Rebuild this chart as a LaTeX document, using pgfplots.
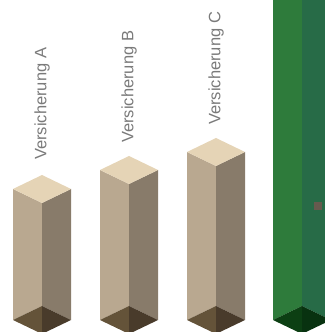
\documentclass[border=0pt]{standalone}
\usepackage{pgfplots}
\pgfplotsset{compat=1.18}
\usepackage{fontspec}
\setmainfont{Liberation Sans}
\definecolor{topB}{HTML}{E5D4B6}
\definecolor{leftB}{HTML}{B9A890}
\definecolor{rightB}{HTML}{887B6A}
\definecolor{botLB}{HTML}{645339}
\definecolor{botRB}{HTML}{493B2B}
\definecolor{leftG}{HTML}{2E7B3B}
\definecolor{rightG}{HTML}{276B47}
\definecolor{botLG}{HTML}{0C3F13}
\definecolor{botRG}{HTML}{083210}
\definecolor{lab}{HTML}{7A7A7A}
\definecolor{dot}{HTML}{665A4E}
\begin{document}
\begin{tikzpicture}
\begin{axis}[
  scale only axis, width=325bp, height=332bp,
  xmin=0, xmax=325, ymin=0, ymax=332,
  hide axis, clip=true,
  every axis plot/.append style={draw=none},
]
% invisible frame so that the picture spans the whole axis area
\addplot[draw=none, fill=none] coordinates {(0,0) (325,332)};
% ---- Versicherung A (cx=42, front top=129)
\addplot[fill=leftB]  coordinates {(13,143) (42,129) (42,26) (13,12)};
\addplot[fill=rightB] coordinates {(42,129) (71,143) (71,12) (42,26)};
\addplot[fill=topB]   coordinates {(42,157) (13,143) (42,129) (71,143)};
\addplot[fill=botLB]  coordinates {(42,26) (13,12) (38,0) (42,0)};
\addplot[fill=botRB]  coordinates {(42,26) (71,12) (46,0) (42,0)};
% ---- Versicherung B (cx=129, front top=148)
\addplot[fill=leftB]  coordinates {(100,162) (129,148) (129,26) (100,12)};
\addplot[fill=rightB] coordinates {(129,148) (158,162) (158,12) (129,26)};
\addplot[fill=topB]   coordinates {(129,176) (100,162) (129,148) (158,162)};
\addplot[fill=botLB]  coordinates {(129,26) (100,12) (125,0) (129,0)};
\addplot[fill=botRB]  coordinates {(129,26) (158,12) (133,0) (129,0)};
% ---- Versicherung C (cx=216, front top=166)
\addplot[fill=leftB]  coordinates {(187,180) (216,166) (216,26) (187,12)};
\addplot[fill=rightB] coordinates {(216,166) (245,180) (245,12) (216,26)};
\addplot[fill=topB]   coordinates {(216,194) (187,180) (216,166) (245,180)};
\addplot[fill=botLB]  coordinates {(216,26) (187,12) (212,0) (216,0)};
\addplot[fill=botRB]  coordinates {(216,26) (245,12) (220,0) (216,0)};
% ---- green bar (cx=302, top beyond the picture)
\addplot[fill=leftG]  coordinates {(273,332) (302,332) (302,26) (273,12)};
\addplot[fill=rightG] coordinates {(302,332) (325,332) (325,14.9) (302,26)};
\addplot[fill=botLG]  coordinates {(302,26) (273,12) (298,0) (302,0)};
\addplot[fill=botRG]  coordinates {(302,26) (325,14.9) (325,9.1) (306,0) (302,0)};
\addplot[only marks, mark=square*, mark size=3.5bp, color=dot] coordinates {(318,126)};
% ---- labels
\node[rotate=90, anchor=west, inner sep=0pt, text=lab, font=\fontsize{16.5bp}{18bp}\selectfont] at (axis cs:42,172) {Versicherung A};
\node[rotate=90, anchor=west, inner sep=0pt, text=lab, font=\fontsize{16.5bp}{18bp}\selectfont] at (axis cs:129,189) {Versicherung B};
\node[rotate=90, anchor=west, inner sep=0pt, text=lab, font=\fontsize{16.5bp}{18bp}\selectfont] at (axis cs:216,207) {Versicherung C};
\end{axis}
\end{tikzpicture}
\end{document}
